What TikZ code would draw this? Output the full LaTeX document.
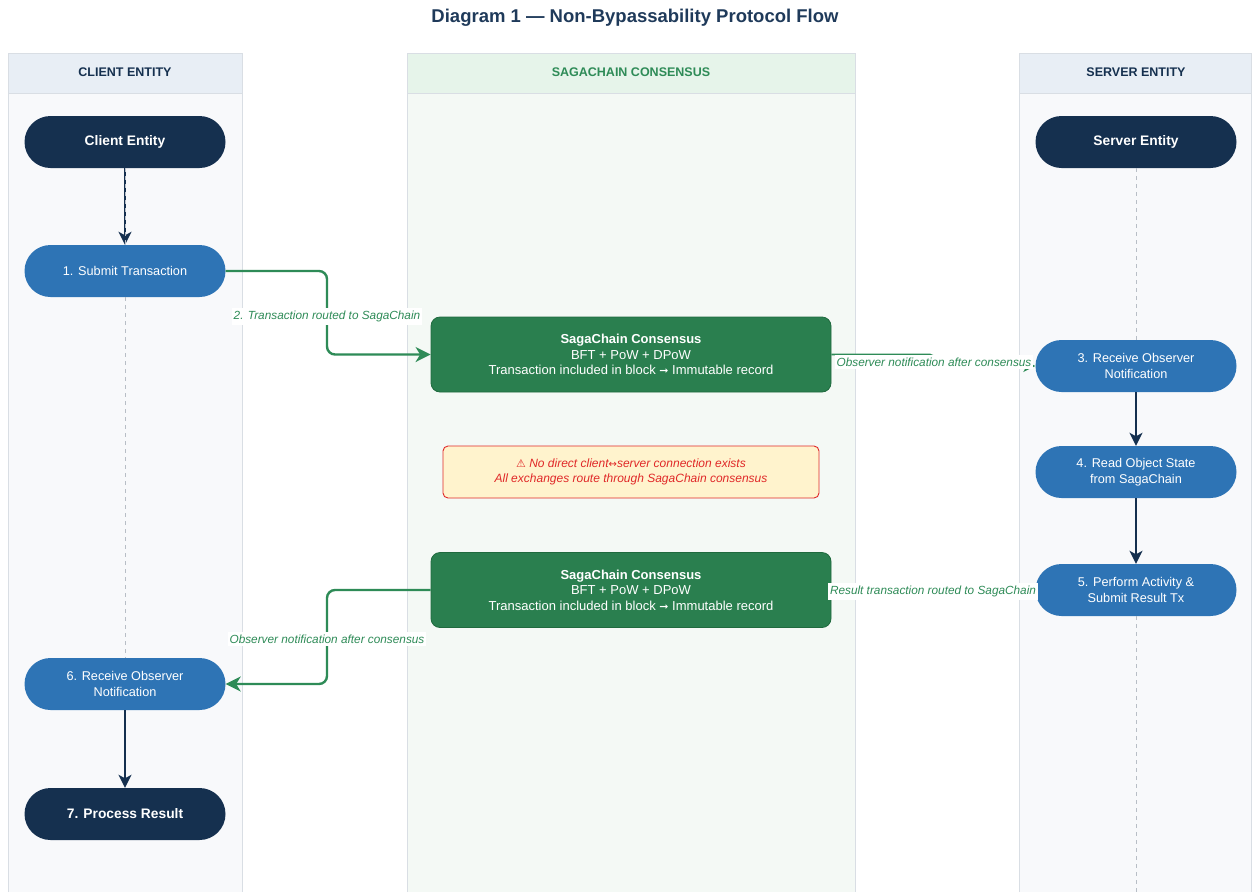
\documentclass[tikz,border=0pt]{standalone}
\usepackage{fontspec}
\setmainfont{Liberation Sans}
\newfontfamily\symfont{DejaVu Sans}
\usetikzlibrary{arrows.meta}

\definecolor{navy}{HTML}{15304F}
\definecolor{stepblue}{HTML}{2E74B5}
\definecolor{chaingreen}{HTML}{2A7F4F}
\definecolor{chainborder}{HTML}{1F6A3E}
\definecolor{flowgreen}{HTML}{2E8B57}
\definecolor{titlecol}{HTML}{1F3A5A}
\definecolor{laneheadblue}{HTML}{E8EEF5}
\definecolor{lanebodyblue}{HTML}{F8F9FB}
\definecolor{laneheadgreen}{HTML}{E6F4EA}
\definecolor{lanebodygreen}{HTML}{F4F9F5}
\definecolor{laneline}{HTML}{D9DEE4}
\definecolor{warnfill}{HTML}{FFF3CD}
\definecolor{warnred}{HTML}{E02828}
\definecolor{lifeline}{HTML}{B8BEC6}

\tikzset{
  lanehead/.style={font=\fontsize{12.5}{14}\selectfont\bfseries, text=navy},
  entity/.style={draw=none, fill=navy, text=white, rounded corners=26pt,
    minimum width=201pt, minimum height=52pt, align=center,
    font=\fontsize{13.8}{16}\selectfont\bfseries},
  stepnode/.style={draw=none, fill=stepblue, text=white, rounded corners=26pt,
    minimum width=201pt, minimum height=52pt, align=center,
    font=\fontsize{12.7}{16.5}\selectfont},
  chainbox/.style={draw=chainborder, line width=0.8pt, fill=chaingreen, text=white,
    rounded corners=9pt, minimum width=400pt, minimum height=75pt, align=center,
    font=\fontsize{13}{15.5}\selectfont},
  warnbox/.style={draw=warnred, line width=0.9pt, fill=warnfill, text=warnred,
    rounded corners=5pt, minimum width=376pt, minimum height=52pt, align=center,
    font=\fontsize{12}{15}\selectfont\itshape},
  navyarrow/.style={draw=navy, line width=2pt,
    -{Stealth[length=13pt,width=13pt,inset=3.5pt]}},
  greenarrow/.style={draw=flowgreen, line width=2.4pt, rounded corners=8pt,
    -{Stealth[length=15pt,width=15pt,inset=4.5pt]}},
  thingreen/.style={greenarrow, line width=1.6pt, rounded corners=4pt,
    -{Stealth[length=12pt,width=12pt,inset=3.5pt]}},
  flowlabel/.style={fill=white, inner xsep=2pt, inner ysep=3pt, text=flowgreen,
    font=\fontsize{11.8}{13}\selectfont\itshape},
  lifelinestyle/.style={draw=lifeline, line width=0.7pt, dash pattern=on 4pt off 4pt},
}

\begin{document}
\begin{tikzpicture}[x=1pt,y=-1pt]
\useasboundingbox (0,0) rectangle (1252,892);
\fill[white] (0,0) rectangle (1252,892);

% title
\node[font=\fontsize{18.5}{22}\selectfont\bfseries, text=titlecol] (title) at (635,18)
  {Diagram 1 — Non-Bypassability Protocol Flow};

% swimlanes
\fill[lanebodyblue] (8,93) rectangle (242,892);
\fill[laneheadblue] (8,53) rectangle (242,93);
\draw[laneline, line width=0.8pt] (8,892) -- (8,53) -- (242,53) -- (242,892);
\draw[laneline, line width=0.8pt] (8,93) -- (242,93);

\fill[lanebodygreen] (407,93) rectangle (855,892);
\fill[laneheadgreen] (407,53) rectangle (855,93);
\draw[laneline, line width=0.8pt] (407,892) -- (407,53) -- (855,53) -- (855,892);
\draw[laneline, line width=0.8pt] (407,93) -- (855,93);

\fill[lanebodyblue] (1019,93) rectangle (1252,892);
\fill[laneheadblue] (1019,53) rectangle (1252,93);
\draw[laneline, line width=0.8pt] (1019,892) -- (1019,53) -- (1251.5,53) -- (1251.5,892);
\draw[laneline, line width=0.8pt] (1019,93) -- (1252,93);

\node[lanehead] (hclient) at (125,72) {CLIENT ENTITY};
\node[lanehead, text=flowgreen] (hchain) at (631,72) {SAGACHAIN CONSENSUS};
\node[lanehead] (hserver) at (1136,72) {SERVER ENTITY};

% lifeline end points
\coordinate (clientend) at (125,658);
\coordinate (serverend) at (1136,892);

% client side
\node[entity] (client) at (125,142) {Client Entity};
\node[stepnode] (s1) at (125,271) {1. Submit Transaction};
\node[stepnode] (s6) at (125,684) {6. Receive Observer\\Notification};
\node[entity] (s7) at (125,814) {7. Process Result};

% server side
\node[entity] (server) at (1136,142) {Server Entity};
\node[stepnode] (s3) at (1136,366) {3. Receive Observer\\Notification};
\node[stepnode] (s4) at (1136,472) {4. Read Object State\\from SagaChain};
\node[stepnode] (s5) at (1136,590) {5. Perform Activity \&\\Submit Result Tx};

% consensus
\node[chainbox] (c1) at (631,354.5)
  {\textbf{SagaChain Consensus}\\BFT + PoW + DPoW\\Transaction included in block {\symfont\fontsize{11}{12}\selectfont ➞} Immutable record};
\node[chainbox] (c2) at (631,590)
  {\textbf{SagaChain Consensus}\\BFT + PoW + DPoW\\Transaction included in block {\symfont\fontsize{11}{12}\selectfont ➞} Immutable record};

\node[warnbox] (warn) at (631,472)
  {{\symfont\fontsize{11}{12}\selectfont ⚠} No direct client{\symfont\fontsize{10}{12}\selectfont ↔}server connection exists\\All exchanges route through SagaChain consensus};

% vertical flows and lifelines
\draw[navyarrow] (client.south) -- (s1.north);
\draw[lifelinestyle] (client.south) -- (s1.north);
\draw[lifelinestyle] (s1.south) -- (clientend);
\draw[lifelinestyle] (server.south) -- (s3.north);
\draw[lifelinestyle] (s5.south) -- (serverend);
\draw[navyarrow] (s3.south) -- (s4.north);
\draw[navyarrow] (s4.south) -- (s5.north);
\draw[navyarrow] (s6.south) -- (s7.north);

% routed flows
\coordinate (k1) at (327,316);
\draw[greenarrow] (s1.east) -| (k1) |- (c1.west);
\node[flowlabel] (l1) at (k1) {2. Transaction routed to SagaChain};

\coordinate (k2) at (934,362);
\draw[thingreen] (c1.east) -| (k2) |- (s3.west);
\node[flowlabel] (l2) at (k2) {Observer notification after consensus};

\draw[thingreen] (s5.west) -- (c2.east);
\node[flowlabel] (l3) at (933,591) {Result transaction routed to SagaChain};

\coordinate (k4) at (327,639);
\draw[greenarrow] (c2.west) -| (k4) |- (s6.east);
\node[flowlabel] (l4) at (k4) {Observer notification after consensus};
\end{tikzpicture}
\end{document}
